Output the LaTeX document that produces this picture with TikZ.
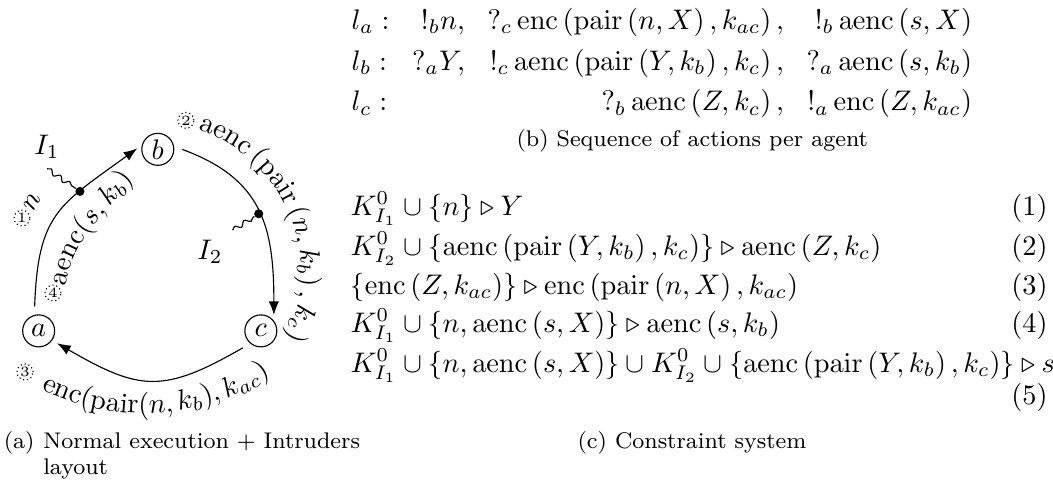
\documentclass[tikz,border=0pt]{standalone}
\usepackage{amsmath,amssymb}
\usetikzlibrary{arrows.meta,calc,positioning,decorations.text,decorations.pathmorphing}

\newcommand{\aenc}[1]{\operatorname{aenc}\left(#1\right)}
\newcommand{\enc}[1]{\operatorname{enc}\left(#1\right)}
\newcommand{\pair}[1]{\operatorname{pair}\left(#1\right)}

\begin{document}
\begin{tikzpicture}[
    >=Latex,
    agent/.style={circle,draw,minimum size=11.3pt,inner sep=0pt},
    msg/.style={->,shorten <=3pt,shorten >=2pt},
    tap/.style={circle,fill=black,inner sep=0pt,minimum size=3.2pt},
    stepno/.style={circle,draw,densely dotted,inner sep=0.3pt,font=\tiny},
    intruder/.style={decorate,decoration={snake,amplitude=0.8pt,segment length=4pt}},
    arclabel/.style={decorate,decoration={text along path,text={#1}}},
    caption/.style={font=\footnotesize,inner sep=0pt}
]

\useasboundingbox (0,0) rectangle (13.08,6.025);

% ---------------------------------------------------------
% (a) Agents and messages
% ---------------------------------------------------------

\node[agent] (a) at (0.48,1.915) {$a$};
\node[agent] (b) at (1.96,4.17) {$b$};
\node[agent] (c) at (3.24,1.915) {$c$};

\draw[msg] (a.105) to[out=88,in=216,looseness=1.3]
    coordinate[pos=0.68] (i1) (b.165);
\draw[msg] (b.10) to[out=-20,in=90,looseness=1.2]
    coordinate[pos=0.52] (i2) (c.38);
\draw[msg] (c.230) to[out=210,in=-30,looseness=1.3] (a.-35);

% Message contents, set on arcs round the ring
\node[rotate=59] (lbln) at (0.398,3.516) {$n$};

\path[arclabel={aenc({$s$},{\,}{$k_b$})}]
    (0.820,2.472) to[out=80,in=230] (1.652,3.789);

\path[arclabel={aenc{\,}(pair{\,}({$n$},{\,}{$k_b$}){\,},{\,}{$k_c$})}]
    (2.459,4.418) arc[start angle=71.5,end angle=-40,radius=1.876];

\path[arclabel={enc(pair({$n$},{\,}{$k_b$}),{\,}{$k_{ac}$})}]
    (0.513,1.187) arc[start angle=243.7,end angle=330,radius=2.845];

% Step numbers
\node[stepno] (s1) at (0.273,3.317) {1};
\node[stepno] (s2) at (2.31,4.53) {2};
\node[stepno] (s3) at (0.311,1.404) {3};
\node[stepno] (s4) at (0.658,2.385) {4};

% Intruders
\node[tap] (t1) at (i1) {};
\node (I1) at (0.584,4.199) {$I_1$};
\draw[intruder] (I1.south) -- (t1);

\node[tap] (t2) at (i2) {};
\node (I2) at (2.609,2.894) {$I_2$};
\draw[intruder] (I2.north east) -- (t2);

\node[caption,anchor=base west] (capa) at (0.04,0.46) {(a)};
\node[caption,anchor=base west] (capatext)
    at ($(capa.base east)+(2.7pt,0)$) {Normal execution + Intruders};
\node[caption,anchor=base west] (capalay)
    at ($(capatext.base west)+(0,-9.5pt)$) {layout};

% ---------------------------------------------------------
% (b) Sequence of actions
% ---------------------------------------------------------

\node[anchor=west,inner sep=0pt] (seq) at (4.36,5.255)
    {\renewcommand{\arraystretch}{1.2}\setlength{\arraycolsep}{4pt}%
    $\begin{array}{@{}lrrr@{}}
    l_a : & !_b n, & ?_c \enc{\pair{n, X}, k_{ac}}, & !_b \aenc{s, X}\\
    l_b : & ?_a Y, & !_c \aenc{\pair{Y, k_b}, k_c}, & ?_a \aenc{s, k_b}\\
    l_c : &        & ?_b \aenc{Z, k_c},             & !_a \enc{Z, k_{ac}}
    \end{array}$};

\node[caption,anchor=base] (capb) at (8.6,4.21)
    {(b) Sequence of actions per agent};

% ---------------------------------------------------------
% (c) Constraint system
% ---------------------------------------------------------

\node[anchor=base west,inner sep=0pt] (k1) at (4.348,3.354)
    {$K^0_{I_1} \cup \{n\} \triangleright Y$};
\node[anchor=base west,inner sep=0pt] (k2) at (4.348,2.857)
    {$K^0_{I_2} \cup \{\aenc{\pair{Y, k_b}, k_c}\} \triangleright \aenc{Z, k_c}$};
\node[anchor=base west,inner sep=0pt] (k3) at (4.348,2.373)
    {$\{\enc{Z, k_{ac}}\} \triangleright \enc{\pair{n, X}, k_{ac}}$};
\node[anchor=base west,inner sep=0pt] (k4) at (4.348,1.901)
    {$K^0_{I_1} \cup \{n, \aenc{s, X}\} \triangleright \aenc{s, k_b}$};
\node[anchor=base west,inner sep=0pt] (k5) at (4.348,1.404)
    {$K^0_{I_1} \cup \{n, \aenc{s, X}\} \cup K^0_{I_2} \cup
      \{\aenc{\pair{Y, k_b}, k_c}\} \triangleright s$};

\node[anchor=base east,inner sep=0pt] (n1) at (13.02,3.354) {(1)};
\node[anchor=base east,inner sep=0pt] (n2) at (13.02,2.857) {(2)};
\node[anchor=base east,inner sep=0pt] (n3) at (13.02,2.373) {(3)};
\node[anchor=base east,inner sep=0pt] (n4) at (13.02,1.901) {(4)};
\node[anchor=base east,inner sep=0pt] (n5) at (13.02,1.006) {(5)};

\node[caption,anchor=base] (capc) at (8.596,0.46) {(c) Constraint system};

\end{tikzpicture}
\end{document}
